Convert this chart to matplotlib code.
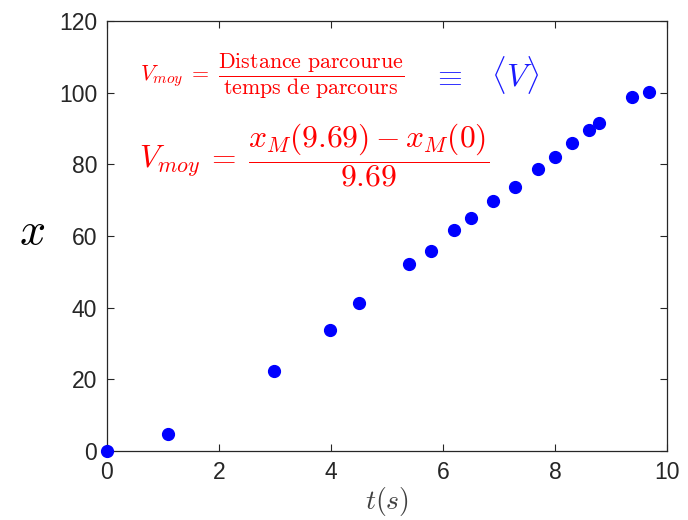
import matplotlib
matplotlib.use("Agg")
import matplotlib.pyplot as plt

t = [0, 1.09, 2.98, 3.98, 4.5, 5.39, 5.79, 6.2, 6.5, 6.89, 7.29, 7.7, 8.0, 8.3, 8.6, 8.79, 9.38, 9.68]
x = [0, 4.7, 22.3, 33.8, 41.3, 52.2, 55.8, 61.7, 65.0, 69.8, 73.7, 78.7, 82.0, 86.0, 89.6, 91.5, 98.8, 100.2]
xticks = [0, 2, 4, 6, 8, 10]
yticks = [0, 20, 40, 60, 80, 100, 120]

plt.rcParams['mathtext.fontset'] = 'cm'
plt.rcParams['font.family'] = ['Liberation Sans', 'DejaVu Sans']

fig = plt.figure(figsize=(6.88, 5.20), dpi=100)
ax = fig.add_axes([0.1555, 0.1327, 0.814, 0.827])
ax.plot(t, x, 'o', color=(0, 0, 1), markersize=8.5, clip_on=False, zorder=3)
ax.set_xlim(0, 10)
ax.set_ylim(0, 120)
ax.set_xticks(xticks)
ax.set_yticks(yticks)
ax.tick_params(direction='in', length=5, width=0.8, top=True, right=True,
               labelsize=16.5, labelcolor='#262626', color='#262626', pad=7)
for s in ax.spines.values():
    s.set_color('#262626')
    s.set_linewidth(0.9)

ax.set_xlabel(r'$t(s)$', fontsize=20, color='#404040', labelpad=1)
fig.text(32 / 688, 1 - 232 / 520, r'$x$', fontsize=33, color='black', ha='center', va='center')

fig.text(140 / 688, 1 - 76 / 520,
         r'$V_{moy}\;=\;\dfrac{\mathrm{Distance\ parcourue}}{\mathrm{temps\ de\ parcours}}$',
         fontsize=15.8, color='red', ha='left', va='center')
fig.text(432 / 688, 1 - 75 / 520, r'$\equiv\ \ \,\langle V\rangle$',
         fontsize=23, color=(0.1, 0.1, 1), ha='left', va='center')
fig.text(139 / 688, 1 - 155 / 520,
         r'$V_{moy}\:=\:\dfrac{x_M(9.69) - x_M(0)}{9.69}$',
         fontsize=22.7, color='red', ha='left', va='center')

fig.savefig('out.png', dpi=100)
